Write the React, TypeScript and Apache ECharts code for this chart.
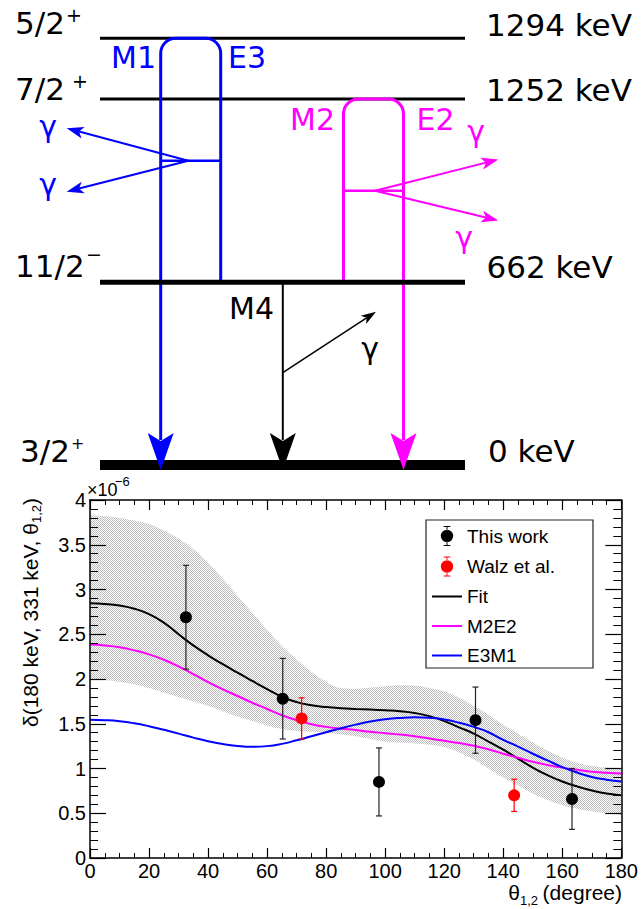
import React, { useEffect, useRef } from "react";
import * as echarts from "echarts";

// ---------- data (values in units of 1e-6), every 5 degrees ----------
const angles = [0, 5, 10, 15, 20, 25, 30, 35, 40, 45, 50, 55, 60, 65, 70, 75, 80, 85, 90, 95, 100, 105, 110, 115, 120, 125, 130, 135, 140, 145, 150, 155, 160, 165, 170, 175, 180];
const fitValues = [2.845, 2.838, 2.82, 2.785, 2.725, 2.63, 2.5, 2.375, 2.265, 2.165, 2.07, 1.978, 1.888, 1.802, 1.742, 1.706, 1.686, 1.673, 1.665, 1.658, 1.65, 1.64, 1.62, 1.585, 1.53, 1.46, 1.39, 1.3, 1.21, 1.11, 1.01, 0.925, 0.855, 0.8, 0.755, 0.72, 0.7];
const m2e2Values = [2.385, 2.375, 2.355, 2.32, 2.275, 2.215, 2.14, 2.055, 1.965, 1.885, 1.81, 1.735, 1.665, 1.595, 1.54, 1.495, 1.465, 1.445, 1.43, 1.41, 1.395, 1.38, 1.36, 1.335, 1.31, 1.285, 1.255, 1.215, 1.165, 1.12, 1.075, 1.04, 1.01, 0.985, 0.965, 0.952, 0.945];
const e3m1Values = [1.545, 1.54, 1.528, 1.505, 1.472, 1.432, 1.39, 1.345, 1.305, 1.273, 1.252, 1.243, 1.25, 1.275, 1.315, 1.36, 1.405, 1.45, 1.49, 1.525, 1.55, 1.565, 1.572, 1.567, 1.548, 1.512, 1.465, 1.405, 1.32, 1.245, 1.165, 1.09, 1.015, 0.955, 0.905, 0.875, 0.855];
const bandUpper = [3.83, 3.82, 3.8, 3.77, 3.73, 3.66, 3.57, 3.45, 3.3, 3.12, 2.93, 2.74, 2.55, 2.37, 2.22, 2.08, 1.97, 1.9, 1.89, 1.905, 1.92, 1.93, 1.925, 1.9, 1.86, 1.79, 1.7, 1.6, 1.49, 1.39, 1.29, 1.2, 1.12, 1.065, 1.03, 1.01, 1.0];
const bandLower = [2.0, 1.99, 1.97, 1.94, 1.9, 1.85, 1.8, 1.75, 1.7, 1.64, 1.58, 1.53, 1.48, 1.44, 1.42, 1.41, 1.4, 1.38, 1.36, 1.33, 1.3, 1.29, 1.28, 1.265, 1.24, 1.18, 1.1, 1.0, 0.9, 0.81, 0.72, 0.65, 0.59, 0.55, 0.52, 0.5, 0.48];

const thisWorkAngles = [32.5, 65.3, 97.9, 130.6, 163.3];
const thisWorkValues = [2.69, 1.78, 0.85, 1.54, 0.66];
const thisWorkErrors = [0.58, 0.45, 0.38, 0.37, 0.34];

const walzAngles = [71.7, 143.7];
const walzValues = [1.56, 0.7];
const walzErrors = [0.23, 0.18];

const seriesNames = ["This work", "Walz et al.", "Fit", "M2E2", "E3M1"];

const FONT_D = '"DejaVu Sans", sans-serif';
const FONT_R = '"Liberation Sans", Arial, sans-serif';
const BLUE = "#0000ff";
const MAG = "#ff00ff";

// ---------- diagram helpers ----------
function ln(x1: number, y1: number, x2: number, y2: number, color: string, w: number) {
  return { type: "line", shape: { x1, y1, x2, y2 }, style: { stroke: color, lineWidth: w }, z: 10 };
}
function headPts(x1: number, y1: number, x2: number, y2: number, len: number, hw: number, notch: number) {
  const dx = x2 - x1, dy = y2 - y1, L = Math.hypot(dx, dy);
  const ux = dx / L, uy = dy / L, px = -uy, py = ux;
  const bx = x2 - ux * len, by = y2 - uy * len;
  const nx = x2 - ux * len * notch, ny = y2 - uy * len * notch;
  return { pts: [[x2, y2], [bx + px * hw, by + py * hw], [nx, ny], [bx - px * hw, by - py * hw]], nx, ny };
}
function arrow(x1: number, y1: number, x2: number, y2: number, color: string, w: number, len: number, hw: number, notch: number) {
  const h = headPts(x1, y1, x2, y2, len, hw, notch);
  return [
    ln(x1, y1, h.nx, h.ny, color, w),
    { type: "polygon", shape: { points: h.pts }, style: { fill: color }, z: 11 },
  ];
}
function txt(x: number, y: number, text: string, color: string, size: number, align = "left", family = FONT_D) {
  return {
    type: "text", x, y, z: 12,
    style: { text, fill: color, font: `${size}px ${family}`, align, verticalAlign: "middle", textAlign: align, textVerticalAlign: "middle" },
  };
}

function diagram() {
  const els: any[] = [];
  // upper levels
  els.push(ln(100, 38.3, 465, 38.3, "#000", 3));
  els.push(ln(100, 99, 465, 99, "#000", 3));
  // blue U (M1 / E3)
  els.push({ type: "rect", z: 10, shape: { x: 160.7, y: 38.3, width: 60, height: 244, r: [15, 15, 0, 0] }, style: { fill: "none", stroke: BLUE, lineWidth: 3 } });
  els.push(ln(160.7, 160.7, 220.7, 160.7, BLUE, 2.5));
  els.push(ln(160.7, 282, 160.7, 440, BLUE, 3));
  // magenta U (M2 / E2)
  els.push({ type: "rect", z: 10, shape: { x: 343.5, y: 99, width: 60, height: 183, r: [15, 15, 0, 0] }, style: { fill: "none", stroke: MAG, lineWidth: 3 } });
  els.push(ln(343.5, 190.7, 403.5, 190.7, MAG, 2.5));
  els.push(ln(403.5, 282, 403.5, 440, MAG, 3));
  // M4
  els.push(ln(282.8, 282, 282.8, 440, "#000", 2));
  // lower levels
  els.push(ln(100, 282.3, 465, 282.3, "#000", 5));
  els.push(ln(100, 465, 465, 465, "#000", 10));
  // big arrowheads
  for (const [x, c] of [[160.7, BLUE], [282.8, "#000"], [403.5, MAG]] as [number, string][]) {
    els.push({ type: "polygon", z: 11, shape: { points: [[x - 13, 433], [x, 441], [x + 13, 433], [x, 470]] }, style: { fill: c } });
  }
  // gamma arrows
  els.push(...arrow(188.3, 160.7, 66.7, 128.3, BLUE, 2, 17, 6, 0.75));
  els.push(...arrow(188.3, 160.7, 66.7, 191.7, BLUE, 2, 17, 6, 0.75));
  els.push(...arrow(375, 190.7, 498.3, 159.5, MAG, 2, 17, 6, 0.75));
  els.push(...arrow(375, 190.7, 498.3, 220.5, MAG, 2, 17, 6, 0.75));
  els.push(...arrow(282.8, 372.7, 376, 311.7, "#000", 1.5, 15, 5, 0.75));
  // labels
  els.push(txt(15, 22.5, "5/2", "#000", 31));
  els.push(txt(66, 15, "+", "#000", 19));
  els.push(txt(15, 88.5, "7/2", "#000", 31));
  els.push(txt(72, 81, "+", "#000", 19));
  els.push(txt(15, 266, "11/2", "#000", 31));
  els.push(txt(86, 254, "−", "#000", 19));
  els.push(txt(20, 451, "3/2", "#000", 31));
  els.push(txt(71, 443, "+", "#000", 16));
  els.push(txt(486, 24.7, "1294 keV", "#000", 31));
  els.push(txt(486, 90, "1252 keV", "#000", 31));
  els.push(txt(486.5, 266.7, "662 keV", "#000", 31));
  els.push(txt(488, 451, "0 keV", "#000", 31));
  els.push(txt(111, 57.5, "M1", BLUE, 30));
  els.push(txt(228, 57.5, "E3", BLUE, 30));
  els.push(txt(290, 119, "M2", MAG, 30));
  els.push(txt(416.5, 119, "E2", MAG, 30));
  els.push(txt(229, 308, "M4", "#000", 30));
  els.push(txt(48, 126.7, "γ", BLUE, 30, "center"));
  els.push(txt(48, 184.7, "γ", BLUE, 30, "center"));
  els.push(txt(476, 131.4, "γ", MAG, 30, "center"));
  els.push(txt(464, 237, "γ", MAG, 30, "center"));
  els.push(txt(370, 348, "γ", "#000", 30, "center"));
  // plot annotations
  els.push(txt(87, 490, "×10", "#000", 18, "left", FONT_R));
  els.push(txt(115, 481, "−6", "#000", 13, "left", FONT_R));
  els.push({
    type: "text", x: 30, y: 498, rotation: Math.PI / 2, z: 12,
    style: {
      text: "{a|δ(180 keV, 331 keV, θ}{s|1,2}{a|)}",
      align: "right", verticalAlign: "middle", textAlign: "right", textVerticalAlign: "middle",
      fill: "#000",
      rich: {
        a: { font: `21px ${FONT_R}`, lineHeight: 26, fill: "#000" },
        s: { font: `13px ${FONT_R}`, lineHeight: 14, verticalAlign: "bottom", fill: "#000" },
      },
    },
  });
  // x-axis title in pieces (theta, subscript, unit)
  els.push(txt(622, 892.5, "(degree)", "#000", 21, "right", FONT_R));
  els.push(txt(538, 900, "1,2", "#000", 13, "right", FONT_R));
  els.push(txt(520, 892.5, "θ", "#000", 21, "right", FONT_R));
  return els;
}

function makePattern() {
  const c = document.createElement("canvas");
  c.width = 2;
  c.height = 2;
  const ctx = c.getContext("2d")!;
  ctx.fillStyle = "#ffffff";
  ctx.fillRect(0, 0, 2, 2);
  ctx.fillStyle = "#bcbcbc";
  ctx.fillRect(0, 0, 1, 1);
  ctx.fillRect(1, 1, 1, 1);
  return { image: c, repeat: "repeat", imageWidth: 2, imageHeight: 2 };
}

const errIcon =
  "path://M3,0 H10 V1 H3 Z M6,1 H7 V4.4 H6 Z M6,16.6 H7 V20 H6 Z M3,20 H10 V21 H3 Z M0,10.5 A6.5,6.5 0 1 0 13,10.5 A6.5,6.5 0 1 0 0,10.5 Z";
const lineIcon = "path://M0,0 H30 V2 H0 Z";

function errRender(color: string) {
  return (params: any, api: any) => {
    const x = api.value(0), lo = api.value(1), hi = api.value(2);
    const p1 = api.coord([x, lo]);
    const p2 = api.coord([x, hi]);
    const cap = 3;
    const st = { stroke: color, lineWidth: 1.2 };
    return {
      type: "group",
      children: [
        { type: "line", shape: { x1: p1[0], y1: p1[1], x2: p2[0], y2: p2[1] }, style: st },
        { type: "line", shape: { x1: p1[0] - cap, y1: p1[1], x2: p1[0] + cap, y2: p1[1] }, style: st },
        { type: "line", shape: { x1: p2[0] - cap, y1: p2[1], x2: p2[0] + cap, y2: p2[1] }, style: st },
      ],
    };
  };
}

function buildOption() {
  const axisCommon = {
    z: 8,
    axisLine: { show: true, onZero: false, lineStyle: { color: "#000", width: 1.5 } },
    splitLine: { show: false },
  };
  const xTick = { show: true, inside: true, length: 10, lineStyle: { color: "#000", width: 1.2 } };
  const xMinor = { show: true, splitNumber: 4, length: 5, lineStyle: { color: "#000", width: 1 } };
  const yTick = { show: true, inside: true, length: 16, lineStyle: { color: "#000", width: 1.2 } };
  const yMinor = { show: true, splitNumber: 5, length: 8, lineStyle: { color: "#000", width: 1 } };
  const pair = (a: number[], b: number[]) => a.map((v, i) => [v, b[i]]);

  return {
    animation: false,
    backgroundColor: "#fff",
    grid: { left: 90, top: 500, width: 532, height: 358 },
    xAxis: [
      {
        type: "value", min: 0, max: 180, interval: 20, position: "bottom", ...axisCommon,
        axisTick: xTick, minorTick: xMinor,
        axisLabel: { fontSize: 20, fontFamily: FONT_R, color: "#000", margin: 3 },
      },
      {
        type: "value", min: 0, max: 180, interval: 20, position: "top", ...axisCommon,
        axisTick: xTick, minorTick: xMinor, axisLabel: { show: false },
      },
    ],
    yAxis: [
      {
        type: "value", min: 0, max: 4, interval: 0.5, position: "left", ...axisCommon,
        axisTick: yTick, minorTick: yMinor,
        axisLabel: { fontSize: 20, fontFamily: FONT_R, color: "#000", margin: 4 },
      },
      {
        type: "value", min: 0, max: 4, interval: 0.5, position: "right", ...axisCommon,
        axisTick: yTick, minorTick: yMinor, axisLabel: { show: false },
      },
    ],
    legend: {
      orient: "vertical", left: 426, top: 520,
      padding: [6, 38, 3, 6], itemGap: 10.5, itemWidth: 30, itemHeight: 20,
      backgroundColor: "#fff", borderColor: "#222", borderWidth: 1.2, borderRadius: 0,
      symbolKeepAspect: true,
      textStyle: { fontSize: 19, fontFamily: FONT_R, color: "#000" },
      data: [
        { name: seriesNames[0], icon: errIcon },
        { name: seriesNames[1], icon: errIcon },
        { name: seriesNames[2], icon: lineIcon },
        { name: seriesNames[3], icon: lineIcon },
        { name: seriesNames[4], icon: lineIcon },
      ],
    },
    graphic: { elements: diagram() },
    series: [
      {
        name: "bandUpper", type: "line", data: pair(angles, bandUpper), smooth: true,
        symbol: "none", lineStyle: { width: 0, opacity: 0 },
        areaStyle: { color: makePattern(), opacity: 1, origin: "start" }, z: 1, silent: true,
      },
      {
        name: "bandLower", type: "line", data: pair(angles, bandLower), smooth: true,
        symbol: "none", lineStyle: { width: 0, opacity: 0 },
        areaStyle: { color: "#ffffff", opacity: 1, origin: "start" }, z: 2, silent: true,
      },
      { name: "Fit", type: "line", data: pair(angles, fitValues), smooth: true, symbol: "none", lineStyle: { color: "#000", width: 2 }, itemStyle: { color: "#000" }, z: 3 },
      { name: "M2E2", type: "line", data: pair(angles, m2e2Values), smooth: true, symbol: "none", lineStyle: { color: MAG, width: 2 }, itemStyle: { color: MAG }, z: 3 },
      { name: "E3M1", type: "line", data: pair(angles, e3m1Values), smooth: true, symbol: "none", lineStyle: { color: BLUE, width: 2 }, itemStyle: { color: BLUE }, z: 3 },
      {
        name: "thisWorkErr", type: "custom", renderItem: errRender("#222"), encode: { x: 0, y: [1, 2] }, z: 4,
        data: thisWorkAngles.map((a, i) => [a, thisWorkValues[i] - thisWorkErrors[i], thisWorkValues[i] + thisWorkErrors[i]]),
      },
      {
        name: "walzErr", type: "custom", renderItem: errRender("#ff0000"), encode: { x: 0, y: [1, 2] }, z: 4,
        data: walzAngles.map((a, i) => [a, walzValues[i] - walzErrors[i], walzValues[i] + walzErrors[i]]),
      },
      { name: "This work", type: "scatter", data: pair(thisWorkAngles, thisWorkValues), symbol: "circle", symbolSize: 12, itemStyle: { color: "#000", opacity: 1 }, z: 5 },
      { name: "Walz et al.", type: "scatter", data: pair(walzAngles, walzValues), symbol: "circle", symbolSize: 12, itemStyle: { color: "#ff0000", opacity: 1 }, z: 5 },
    ],
  };
}

export default function App() {
  const ref = useRef<HTMLDivElement>(null);
  useEffect(() => {
    const chart = echarts.init(ref.current!, undefined, { renderer: "svg" });
    chart.setOption(buildOption() as any);
    return () => chart.dispose();
  }, []);
  return (
    <div
      ref={ref}
      style={{ position: "absolute", left: 0, top: 0, width: 641, height: 909, background: "#fff" }}
    />
  );
}
